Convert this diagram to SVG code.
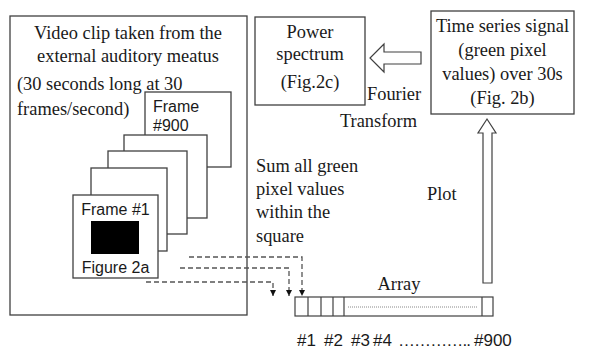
<svg xmlns="http://www.w3.org/2000/svg" width="589" height="349" viewBox="0 0 589 349">
<style>
.box{fill:#fff;stroke:#404040;stroke-width:1.3}
.serif{font-family:"Liberation Serif","Times New Roman",serif;font-size:18.4px;fill:#1a1a1a}
.sans{font-family:"Liberation Sans",Arial,sans-serif;font-size:16px;fill:#1a1a1a}
.lbl{font-family:"Liberation Sans",Arial,sans-serif;font-size:17px;fill:#1a1a1a}
.dash{fill:none;stroke:#555;stroke-width:1.3;stroke-dasharray:5,3}
.cell{fill:none;stroke:#404040;stroke-width:1.2}
</style>
<defs>
<marker id="tri" markerWidth="7" markerHeight="7" refX="6" refY="3.5" orient="auto" markerUnits="userSpaceOnUse" viewBox="0 0 7 7">
<path d="M0,0.5 L6,3.5 L0,6.5 Z" fill="#111"/>
</marker>
</defs>
<rect width="589" height="349" fill="#fff"/>
<g id="video-clip">
<rect class="box" x="10" y="16" width="237" height="299"/>
<text class="serif" x="128" y="39" text-anchor="middle">Video clip taken from the</text>
<text class="serif" x="128" y="62" text-anchor="middle">external auditory meatus</text>
<text class="serif" x="17" y="90">(30 seconds long at 30</text>
<text class="serif" x="17" y="115">frames/second)</text>
</g>
<g id="frame-900">
<rect class="box" x="145" y="92" width="86" height="75"/>
<text class="sans" x="153" y="112">Frame</text>
<text class="sans" x="153" y="131">#900</text>
</g>
<g id="frame-3">
<rect class="box" x="124" y="135" width="83" height="83"/>
</g>
<g id="frame-2">
<rect class="box" x="108" y="151" width="79" height="83"/>
</g>
<g id="frame-1b">
<rect class="box" x="91" y="168" width="76" height="83"/>
</g>
<g id="frame-1">
<rect class="box" x="73" y="195" width="85" height="83"/>
<text class="sans" x="115.5" y="215" text-anchor="middle">Frame #1</text>
<rect x="91" y="221" width="48" height="33" fill="#000"/>
<text class="sans" x="115.5" y="273" text-anchor="middle">Figure 2a</text>
</g>
<g id="power-spectrum">
<rect class="box" x="255" y="17" width="110" height="88"/>
<text class="serif" x="310" y="38" text-anchor="middle">Power</text>
<text class="serif" x="310" y="60" text-anchor="middle">spectrum</text>
<text class="serif" x="310" y="88" text-anchor="middle">(Fig.2c)</text>
</g>
<g id="time-series">
<rect class="box" x="431" y="11" width="143" height="103"/>
<text class="serif" x="502.5" y="32" text-anchor="middle">Time series signal</text>
<text class="serif" x="502.5" y="56" text-anchor="middle">(green pixel</text>
<text class="serif" x="502.5" y="80" text-anchor="middle">values) over 30s</text>
<text class="serif" x="502.5" y="104" text-anchor="middle">(Fig. 2b)</text>
</g>
<g id="array">
<rect class="cell" x="295" y="297" width="198" height="19"/>
<line class="cell" x1="308" y1="297" x2="308" y2="316"/>
<line class="cell" x1="321" y1="297" x2="321" y2="316"/>
<line class="cell" x1="333" y1="297" x2="333" y2="316"/>
<line class="cell" x1="344" y1="297" x2="344" y2="316"/>
<line class="cell" x1="482" y1="297" x2="482" y2="316"/>
<line x1="348" y1="307" x2="478" y2="307" stroke="#888" stroke-width="1" stroke-dasharray="1,1"/>
<text class="serif" x="399" y="290" text-anchor="middle">Array</text>
<text class="lbl" x="297" y="346">#1</text>
<text class="lbl" x="324" y="346">#2</text>
<text class="lbl" x="351" y="346">#3</text>
<text class="lbl" x="373" y="346">#4</text>
<text class="lbl" x="398" y="346" textLength="73" lengthAdjust="spacing">…………..</text>
<text class="lbl" x="474" y="346">#900</text>
</g>
<g id="connectors">
<path class="dash" d="M189,257 H302 V296" marker-end="url(#tri)"/>
<path class="dash" d="M180,268 H289 V296" marker-end="url(#tri)"/>
<path class="dash" d="M146,282 H273 V296" marker-end="url(#tri)"/>
<path d="M421,52 H384 V44 L370,58 L384,72 V64 H421 Z" fill="#fff" stroke="#404040" stroke-width="1.2"/>
<path d="M483,283 V133 H478 L487,119 L496,133 H492 V283 Z" fill="#fff" stroke="#404040" stroke-width="1.2"/>
<text class="serif" x="367" y="100">Fourier</text>
<text class="serif" x="340" y="127">Transform</text>
<text class="serif" x="256" y="172">Sum all green</text>
<text class="serif" x="256" y="195">pixel values</text>
<text class="serif" x="256" y="218">within the</text>
<text class="serif" x="256" y="242">square</text>
<text class="serif" x="427" y="200">Plot</text>
</g>
</svg>
